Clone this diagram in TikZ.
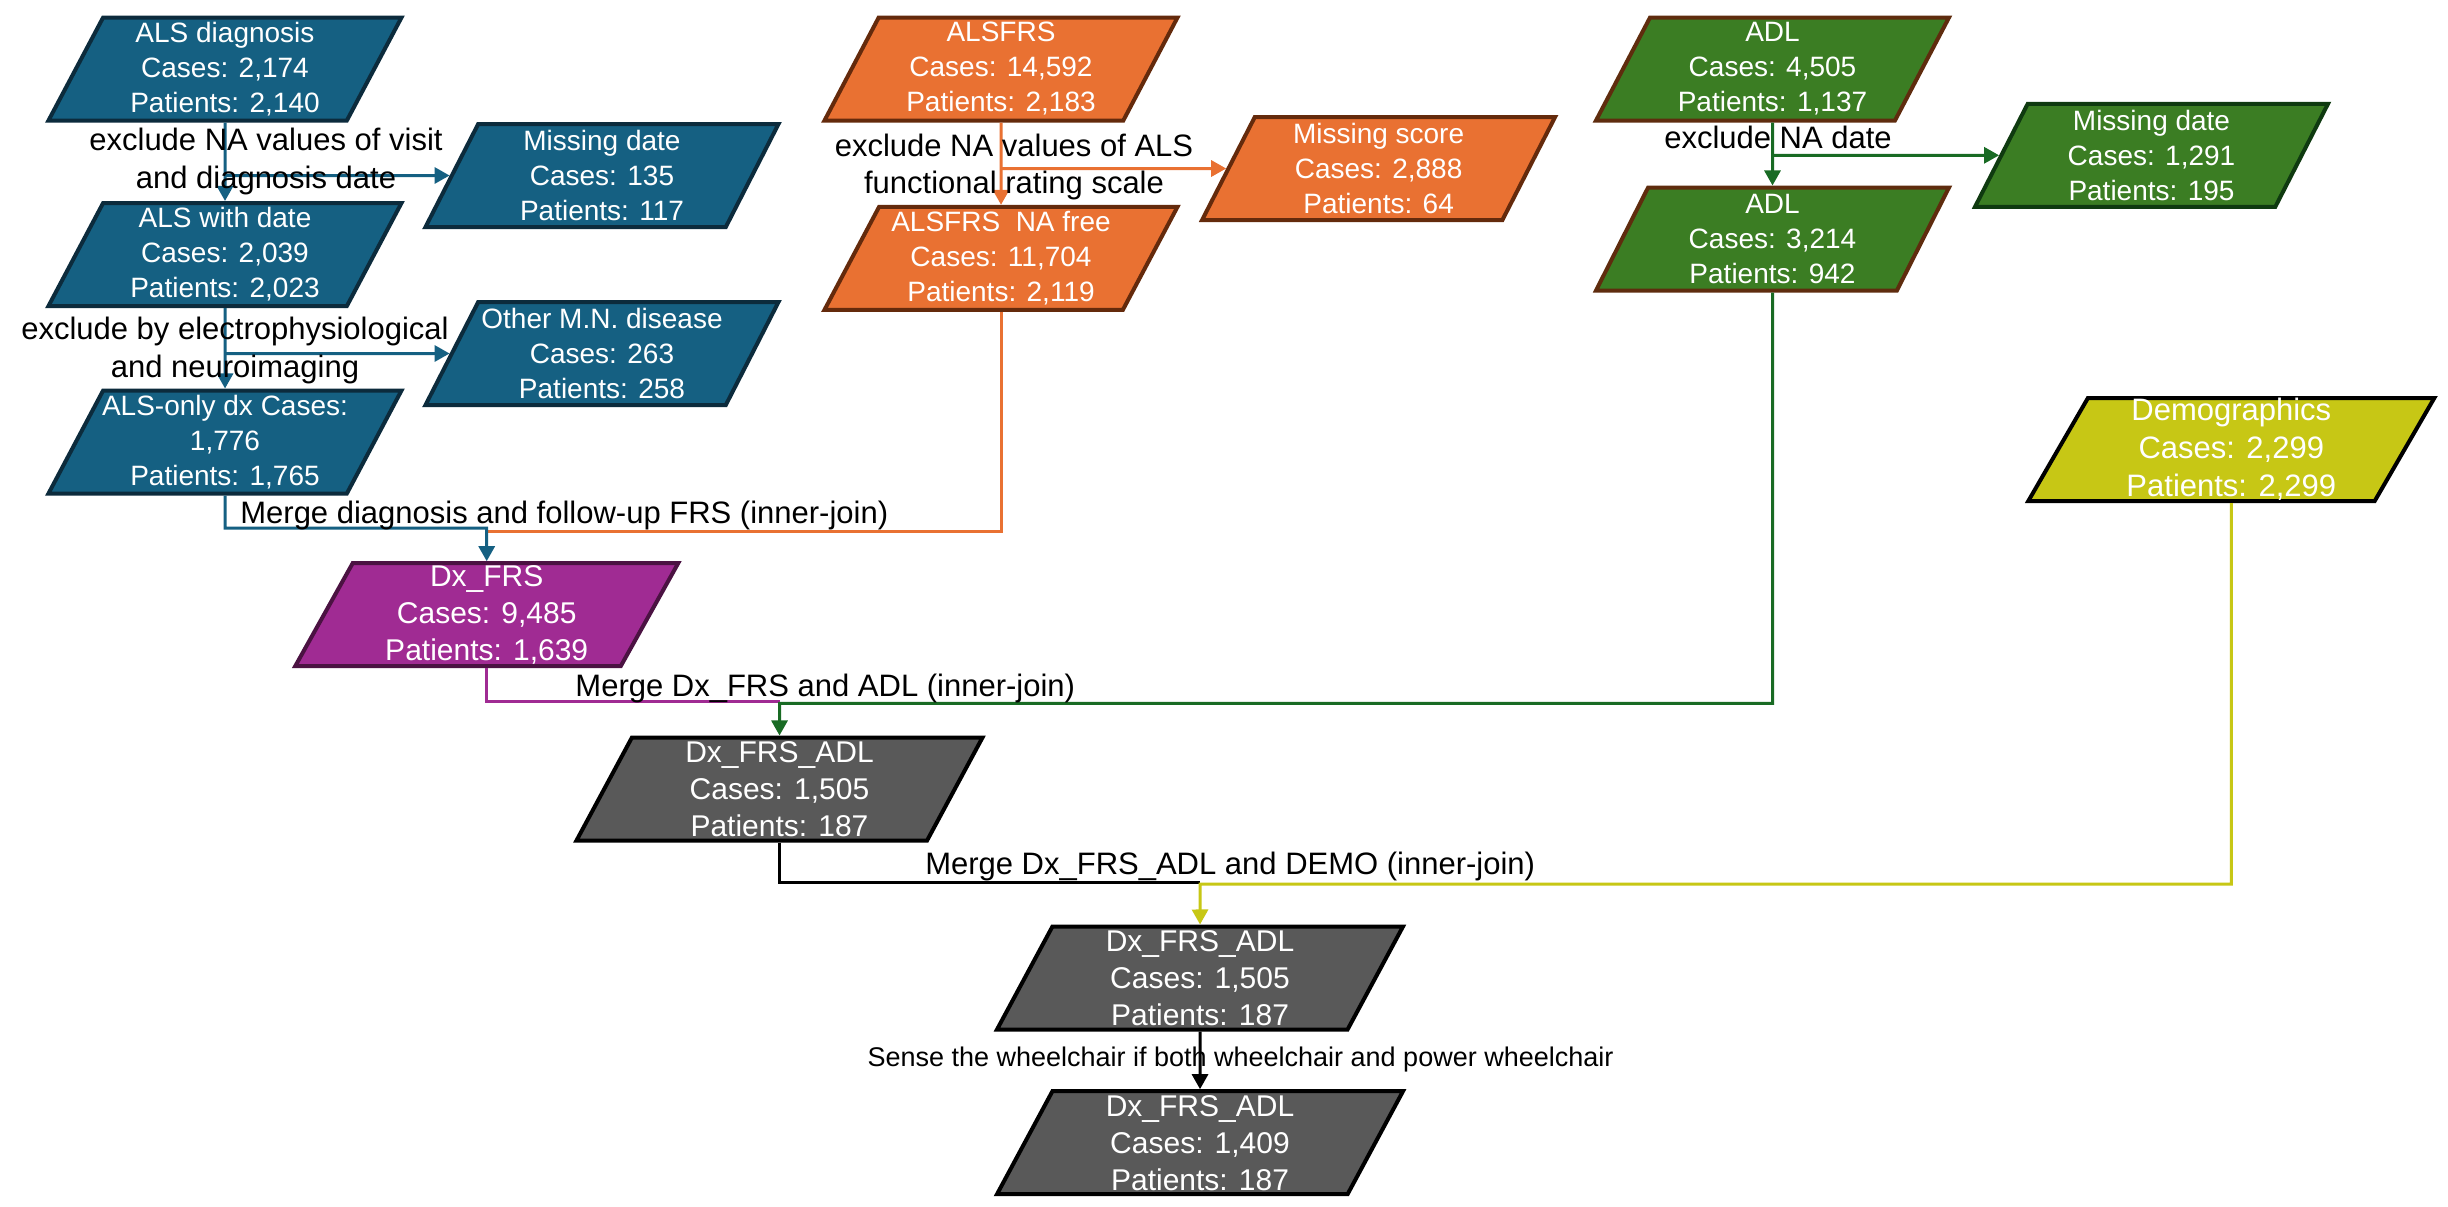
\documentclass[tikz,border=0pt]{standalone}
\usepackage{fontspec}
\setmainfont{Liberation Sans}
\usetikzlibrary{shapes.geometric,arrows.meta}
\definecolor{cBlue}{HTML}{156082}
\definecolor{cBlueD}{HTML}{0C2B3C}
\definecolor{cOrange}{HTML}{E97132}
\definecolor{cOrangeD}{HTML}{642A0C}
\definecolor{cGreen}{HTML}{3B7D23}
\definecolor{cBrown}{HTML}{5F2C0E}
\definecolor{cGreenD}{HTML}{0F3A10}
\definecolor{cGreenLine}{HTML}{196B24}
\definecolor{cPurple}{HTML}{A02B93}
\definecolor{cPurpleD}{HTML}{4B1242}
\definecolor{cGray}{HTML}{595959}
\definecolor{cYellow}{HTML}{C7C715}
\tikzset{
  pbox/.style={trapezium, trapezium left angle=59.8, trapezium right angle=120.2,
    trapezium stretches body, minimum height=51.5pt, minimum width=176.5pt,
    inner ysep=0pt, inner xsep=-15pt, line width=2pt, text=white, align=center,
    font=\fontsize{14}{17.5}\selectfont},
  midbox/.style={minimum width=191.5pt, font=\fontsize{15}{18.5}\selectfont},
  widebox/.style={minimum width=203pt, font=\fontsize{15}{18.5}\selectfont},
  bluebox/.style={pbox, fill=cBlue, draw=cBlueD},
  orangebox/.style={pbox, fill=cOrange, draw=cOrangeD},
  greenbox/.style={pbox, fill=cGreen, draw=cBrown},
  greenboxd/.style={pbox, fill=cGreen, draw=cGreenD},
  purplebox/.style={pbox, midbox, fill=cPurple, draw=cPurpleD},
  graybox/.style={pbox, widebox, fill=cGray, draw=black},
  yellowbox/.style={pbox, widebox, fill=cYellow, draw=black, font=\fontsize{15.5}{19}\selectfont},
  conn/.style={line width=1.5pt},
  arr/.style={-{Triangle[length=7.5pt,width=8pt]}},
  lab/.style={font=\fontsize{15.5}{18.85}\selectfont, align=center, inner sep=0pt, text=black},
  smalllab/.style={font=\fontsize{13.5}{16}\selectfont, inner sep=0pt, text=black},
}
\begin{document}
\begin{tikzpicture}[x=0.5pt,y=-0.5pt]
\useasboundingbox[fill=white] (0,0) rectangle (2448,1206);

% ---- boxes ----
\node[bluebox] (als1) at (225,69) {ALS diagnosis\\Cases: 2,174\\Patients: 2,140};
\node[bluebox] (als2) at (225,254.5) {ALS with date\\Cases: 2,039\\Patients: 2,023};
\node[bluebox] (als3) at (225,442) {ALS-only dx Cases:\\1,776\\Patients: 1,765};
\node[bluebox] (mis1) at (602,175.5) {Missing date\\Cases: 135\\Patients: 117};
\node[bluebox] (oth) at (602,353.5) {Other M.N. disease\\Cases: 263\\Patients: 258};

\node[orangebox] (frs1) at (1001,69) {ALSFRS\\Cases: 14,592\\Patients: 2,183};
\node[orangebox] (frs2) at (1001,258.3) {ALSFRS\ \ NA free\\Cases: 11,704\\Patients: 2,119};
\node[orangebox] (miss) at (1378.6,168.5) {Missing score\\Cases: 2,888\\Patients: 64};

\node[greenbox] (adl1) at (1772.5,69) {ADL\\Cases: 4,505\\Patients: 1,137};
\node[greenbox] (adl2) at (1772.5,239) {ADL\\Cases: 3,214\\Patients: 942};
\node[greenboxd] (mdg) at (2151.5,155.3) {Missing date\\Cases: 1,291\\Patients: 195};

\node[yellowbox] (demo) at (2231.3,449.5) {Demographics\\Cases: 2,299\\Patients: 2,299};

\node[purplebox] (dxfrs) at (486.7,614.7) {Dx\_FRS\\Cases: 9,485\\Patients: 1,639};
\node[graybox] (dfa1) at (779.5,789) {Dx\_FRS\_ADL\\Cases: 1,505\\Patients: 187};
\node[graybox] (dfa2) at (1200,978) {Dx\_FRS\_ADL\\Cases: 1,505\\Patients: 187};
\node[graybox] (dfa3) at (1200,1142.7) {Dx\_FRS\_ADL\\Cases: 1,409\\Patients: 187};

% ---- junction coordinates ----
\coordinate (jA) at (486.7,528);
\coordinate (jAo) at (488,531);
\coordinate (jB) at (779.5,701.7);
\coordinate (jBg) at (779.5,703.3);
\coordinate (jC) at (1200,882.7);
\coordinate (jCy) at (1200,884);

% ---- connectors ----
\draw[conn,arr,cBlue] (als1) -- (als2);
\draw[conn,arr,cBlue] (als1.south |- mis1.center) -- (mis1);
\draw[conn,arr,cBlue] (als2) -- (als3);
\draw[conn,arr,cBlue] (als2.south |- oth.center) -- (oth);

\draw[conn,arr,cOrange] (frs1) -- (frs2);
\draw[conn,arr,cOrange] (frs1.south |- miss.center) -- (miss);

\draw[conn,arr,cGreenLine] (adl1) -- (adl2);
\draw[conn,arr,cGreenLine] (adl1.south |- mdg.center) -- (mdg);

\draw[conn,cOrange] (frs2.south) |- (jAo);
\draw[conn,arr,cBlue] (als3.south) |- (jA) -- (dxfrs.north);

\draw[conn,cPurple] (dxfrs.south) |- (jB);
\draw[conn,arr,cGreenLine] (adl2.south) |- (jBg) -- (dfa1.north);

\draw[conn,black] (dfa1.south) |- (jC);
\draw[conn,arr,cYellow] (demo.south) |- (jCy) -- (dfa2.north);

\draw[conn,arr,black] (dfa2) -- (dfa3);

% ---- labels ----
\node[lab] (l1) at (266,161.5) {exclude NA values of visit\\and diagnosis date};
\node[lab] (l2) at (235,350.3) {exclude by electrophysiological\\and neuroimaging};
\node[lab] (l3) at (1014,167) {exclude NA values of ALS\\functional rating scale};
\node[lab,anchor=base] (l4) at (1778,148.3) {exclude NA date};
\node[lab,anchor=base] (l5) at (564.3,523.3) {Merge diagnosis and follow-up FRS (inner-join)};
\node[lab,anchor=base] (l6) at (825.3,696) {Merge Dx\_FRS and ADL (inner-join)};
\node[lab,anchor=base] (l7) at (1230.2,874) {Merge Dx\_FRS\_ADL and DEMO (inner-join)};
\node[smalllab,anchor=base] (l8) at (1240.5,1066) {Sense the wheelchair if both wheelchair and power wheelchair};
\end{tikzpicture}
\end{document}
